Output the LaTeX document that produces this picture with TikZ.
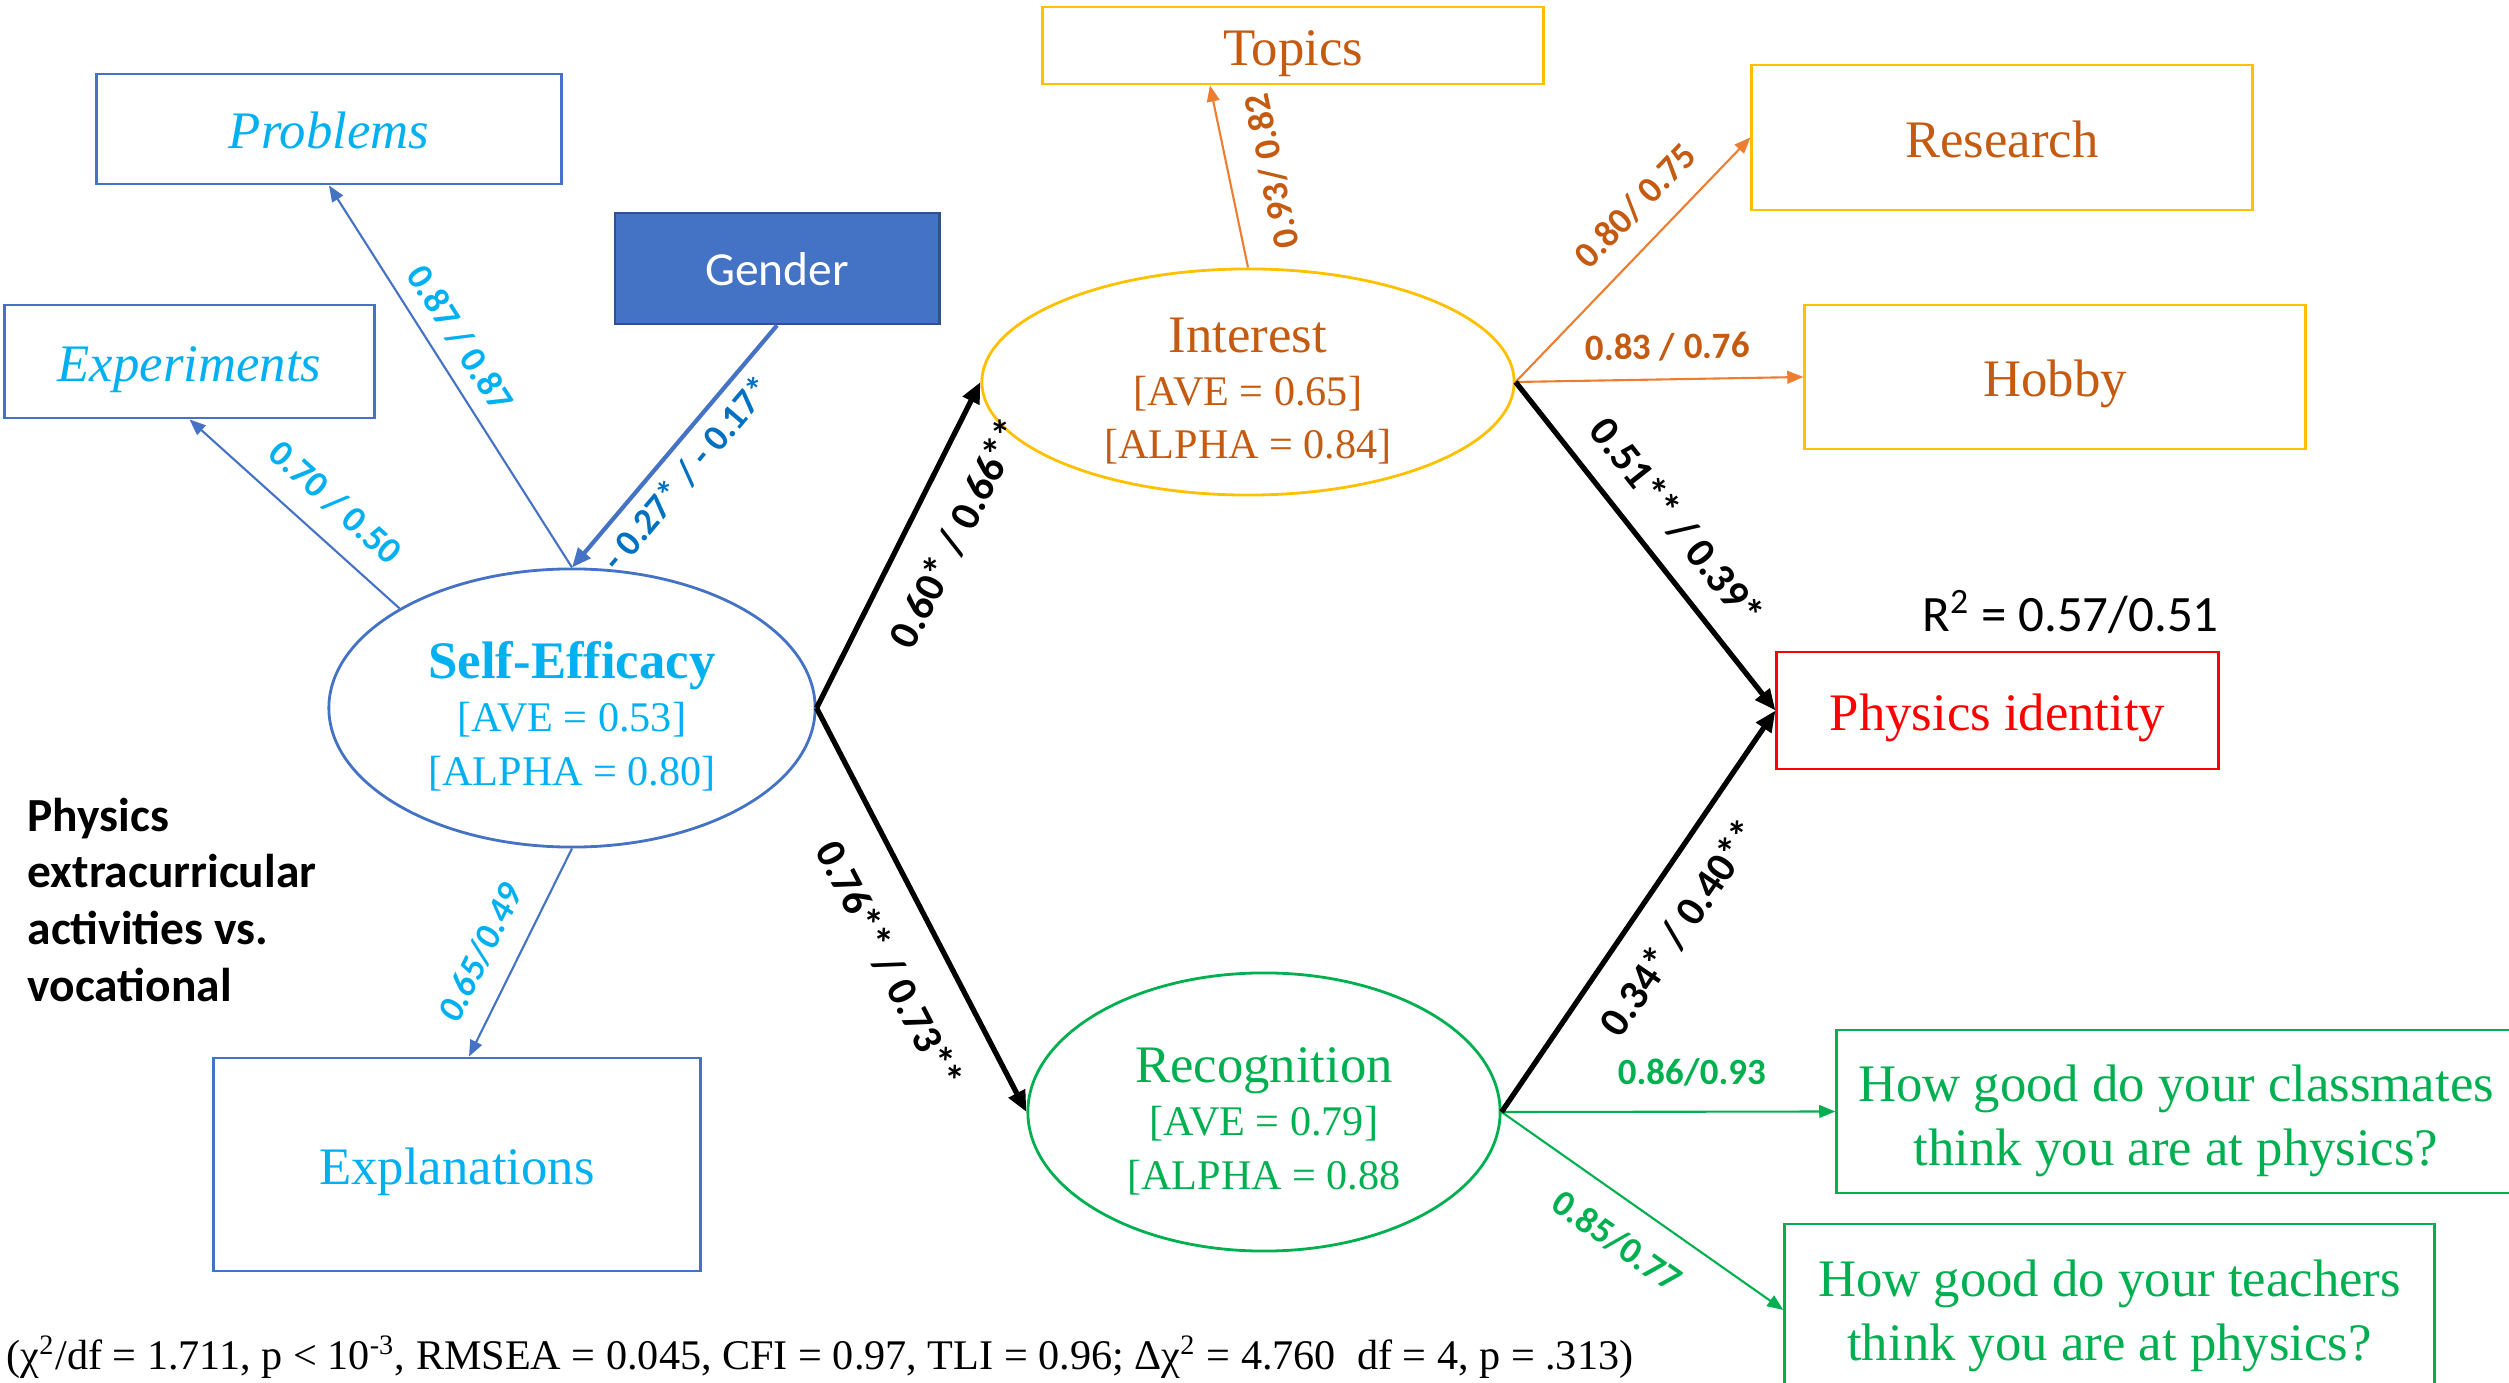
\documentclass[tikz,border=0pt]{standalone}
\usepackage{fontspec}
\setmainfont{Liberation Serif}
\setsansfont{Carlito}
\usepackage{xcolor}
\usetikzlibrary{shapes,arrows.meta,positioning}
\definecolor{officeblue}{RGB}{68,114,196}
\definecolor{genderedge}{RGB}{47,82,143}
\definecolor{deepblue}{RGB}{0,112,192}
\definecolor{skyblue}{RGB}{0,176,240}
\definecolor{goldline}{RGB}{255,192,0}
\definecolor{rusttext}{RGB}{197,90,17}
\definecolor{orangeline}{RGB}{237,125,49}
\definecolor{okgreen}{RGB}{0,176,80}
\definecolor{alertred}{RGB}{255,0,0}
\newcommand{\latentname}[1]{{\fontsize{15}{15.2}\selectfont\rule{0pt}{15pt}#1}}
\tikzset{
    % Define standard node styles
    itembox/.style={
        rectangle, draw=#1, line width=0.8pt, inner sep=0pt,
        align=center, font=\fontsize{15}{18}\selectfont,
        text height=15pt, text depth=3.75pt
    },
    latent/.style={
        ellipse, draw=#1, line width=0.8pt, inner xsep=0pt, inner ysep=-3pt,
        align=center, font=\fontsize{12}{15.2}\selectfont
    },
    questionbox/.style={
        rectangle, draw=okgreen, line width=0.8pt, inner sep=0pt,
        align=center, text=okgreen, font=\fontsize{15}{18.2}\selectfont
    },
    loadarrow/.style={
        ->, >={Triangle[length=4.6pt,width=3.6pt]}, line width=0.6pt, color=#1
    },
    patharrow/.style={
        ->, >={Triangle[length=6pt,width=5pt]}, line width=1.5pt, color=black
    },
    loading/.style={
        sloped, inner sep=1pt, text=#1,
        font=\sffamily\bfseries\fontsize{10.5}{12}\selectfont
    },
    coef/.style={
        sloped, inner sep=1pt, text=black,
        font=\sffamily\bfseries\fontsize{12}{14}\selectfont
    },
    annotation/.style={
        inner sep=0pt, align=left, text=black
    }
}

\begin{document}
\begin{tikzpicture}[x=0.01cm, y=-0.01cm]
\useasboundingbox (0,0) rectangle (2509,1383);
\clip (0,0) rectangle (2509,1383);

% Latent constructs
\node[latent=officeblue, text=skyblue, minimum width=4.86cm, minimum height=2.78cm] (selfeff) at (572,708)
    {\latentname{\bfseries Self-Efficacy}\\{[AVE = 0.53]}\\{[ALPHA = 0.80]}};
\node[latent=goldline, text=rusttext, minimum width=5.32cm, minimum height=2.26cm] (interest) at (1248,382)
    {\latentname{Interest}\\{[AVE = 0.65]}\\{[ALPHA = 0.84]}};
\node[latent=okgreen, text=okgreen, minimum width=4.72cm, minimum height=2.78cm] (recog) at (1264,1112)
    {\latentname{Recognition}\\{[AVE = 0.79]}\\{[ALPHA = 0.88}};

% Self-efficacy indicators and gender
\node[itembox=officeblue, text=skyblue, font=\fontsize{15}{18}\selectfont\itshape, minimum width=4.64cm, minimum height=1.10cm] (problems) at (329,129) {Problems};
\node[itembox=officeblue, text=skyblue, font=\fontsize{15}{18}\selectfont\itshape, minimum width=3.69cm, minimum height=1.13cm] (experiments) at (189.5,361.5) {Experiments};
\node[itembox=officeblue, text=skyblue, minimum width=4.86cm, minimum height=2.13cm] (explanations) at (457,1164.5) {Explanations};
\node[itembox=genderedge, fill=officeblue, text=white, font=\sffamily\fontsize{13.5}{16}\selectfont, text height=9.5pt, text depth=0pt, minimum width=3.24cm, minimum height=1.11cm] (gender) at (777,268.5) {Gender};

% Interest indicators
\node[itembox=goldline, text=rusttext, minimum width=5.00cm, minimum height=0.77cm] (topics) at (1293,45.5) {Topics};
\node[itembox=goldline, text=rusttext, minimum width=5.00cm, minimum height=1.45cm] (research) at (2002,137.5) {Research};
\node[itembox=goldline, text=rusttext, minimum width=5.00cm, minimum height=1.44cm] (hobby) at (2055,377) {Hobby};

% Outcome
\node[itembox=alertred, text=alertred, minimum width=4.41cm, minimum height=1.17cm] (physid) at (1997.5,710.5) {Physics identity};
\node[annotation, font=\sffamily\fontsize{14.5}{17}\selectfont, anchor=base east] (rsq) at ([yshift=0.19cm]physid.north east) {R\textsuperscript{2} = 0.57/0.51};

% Recognition indicators
\node[questionbox, minimum width=6.78cm, minimum height=1.63cm] (classmates) at (2176,1111.5) {\rule{0pt}{16pt}How good do your classmates\\think you are at physics?};
\node[questionbox, minimum width=6.49cm, minimum height=1.72cm] (teachers) at (2109.5,1310) {\rule{0pt}{14pt}How good do your teachers\\think you are at physics?};

% Notes
\node[annotation, font=\sffamily\bfseries\fontsize{13.5}{16.2}\selectfont, anchor=west] (groups) at (27,900) {Physics\\extracurricular\\activities vs.\\vocational};
\node[annotation, font=\fontsize{12}{15}\selectfont, anchor=west] (fit) at (6,1357)
    {(χ\textsuperscript{2}/df = 1.711, p < 10\textsuperscript{-3}, RMSEA = 0.045, CFI = 0.97, TLI = 0.96; Δχ\textsuperscript{2} = 4.760\ \ df = 4, p = .313)};

% Loadings
\draw[loadarrow=officeblue] (selfeff.north) -- node[loading=skyblue, pos=0.56, above=3pt] {0.87 / 0.87} (problems.south);
\draw[loadarrow=officeblue] (selfeff.150) -- node[loading=skyblue, pos=0.42, above=5pt] {0.70 / 0.50} (experiments.south);
\draw[loadarrow=officeblue] (selfeff.south) -- node[loading=skyblue, pos=0.58, above=5pt, font=\sffamily\bfseries\itshape\fontsize{10.5}{12}\selectfont] {0.65/0.49} ([xshift=0.12cm]explanations.north);
\draw[loadarrow=officeblue, line width=1.2pt, >={Triangle[length=5.5pt,width=4.5pt]}] (gender.south) -- node[loading=deepblue, pos=0.54, below=2pt] {- 0.27* / - 0.17*} (selfeff.north);
\draw[loadarrow=orangeline] (interest.north) -- node[loading=rusttext, allow upside down, pos=0.48, below=7pt] {0.93/ 0.82} ([xshift=-0.83cm]topics.south);
\draw[loadarrow=orangeline] (interest.east) -- node[loading=rusttext, pos=0.62, above=5pt] {0.80/ 0.75} (research.west);
\draw[loadarrow=orangeline] (interest.east) -- node[loading=rusttext, pos=0.53, above=4pt] {0.83 / 0.76} (hobby.west);
\draw[loadarrow=okgreen] (recog.east) -- node[loading=okgreen, pos=0.57, above=6pt] {0.86/0.93} (classmates.west);
\draw[loadarrow=okgreen] (recog.east) -- node[loading=okgreen, pos=0.49, below=6pt] {0.85/0.77} (teachers.west);

% Structural paths
\draw[patharrow] (selfeff.east) -- node[coef, pos=0.6, below=7pt] {0.60* / 0.66**} (interest.west);
\draw[patharrow] (selfeff.east) -- node[coef, pos=0.575, below=9pt] {0.76** / 0.73**} (recog.west);
\draw[patharrow] (interest.east) -- node[coef, pos=0.5, above=5pt] {0.51** / 0.39*} (physid.west);
\draw[patharrow] (recog.east) -- node[coef, pos=0.52, below=6pt] {0.34* / 0.40**} (physid.west);

\end{tikzpicture}
\end{document}
